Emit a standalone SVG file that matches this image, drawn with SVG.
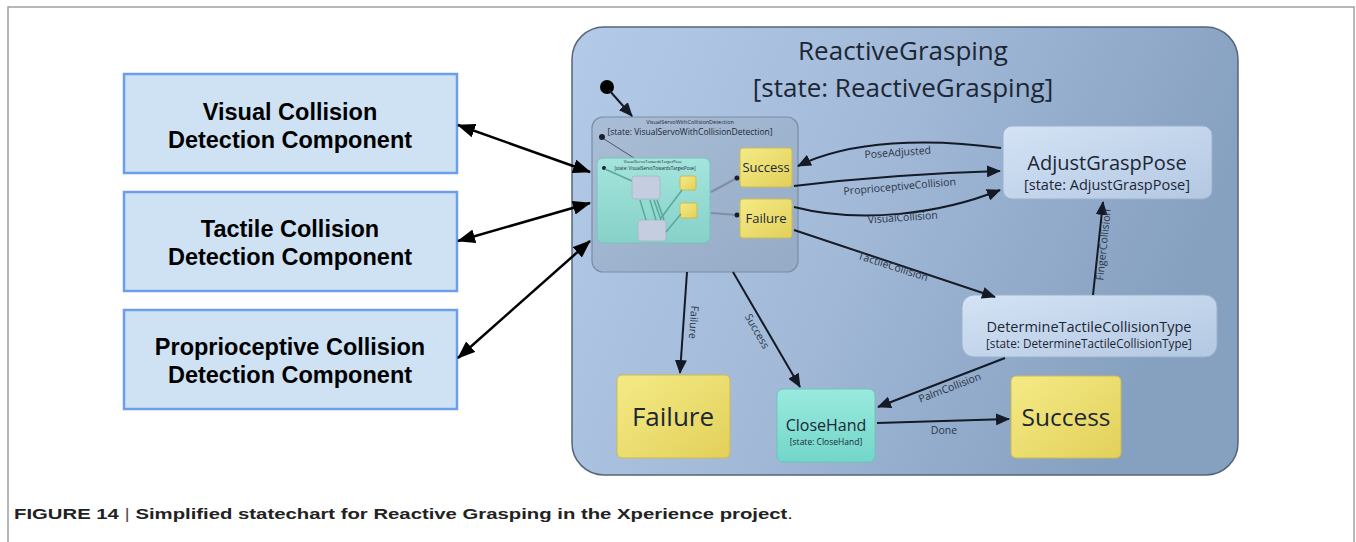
<svg xmlns="http://www.w3.org/2000/svg" width="1356" height="542" viewBox="0 0 1356 542">
<defs>
<linearGradient id="gMain" x1="0" y1="0" x2="1" y2="0.3">
<stop offset="0" stop-color="#b3cae9"/><stop offset="0.5" stop-color="#a2b9d8"/><stop offset="1" stop-color="#86a0bf"/>
</linearGradient>
<linearGradient id="gVS" x1="0" y1="0" x2="1" y2="1">
<stop offset="0" stop-color="#a9bdd6"/><stop offset="1" stop-color="#95abc6"/>
</linearGradient>
<linearGradient id="gTeal" x1="0" y1="0" x2="0" y2="1">
<stop offset="0" stop-color="#a4e5dd"/><stop offset="1" stop-color="#86d1c8"/>
</linearGradient>
<linearGradient id="gCH" x1="0" y1="0" x2="0" y2="1">
<stop offset="0" stop-color="#9aeade"/><stop offset="1" stop-color="#72d6c9"/>
</linearGradient>
<linearGradient id="gY" x1="0" y1="0" x2="1" y2="1">
<stop offset="0" stop-color="#f4ea86"/><stop offset="1" stop-color="#e2d05a"/>
</linearGradient>
<linearGradient id="gAG" x1="0" y1="0" x2="1" y2="1">
<stop offset="0" stop-color="#d4e3f5"/><stop offset="1" stop-color="#b3c8e2"/>
</linearGradient>
<marker id="ah" markerUnits="userSpaceOnUse" markerWidth="14" markerHeight="12" viewBox="0 0 14 12" refX="13" refY="6" orient="auto">
<path d="M0,0 L14,6 L0,12 z" fill="#141a26"/>
</marker>
<marker id="ahs" markerUnits="userSpaceOnUse" markerWidth="6" markerHeight="6" viewBox="0 0 6 6" refX="3" refY="3" orient="auto">
<circle cx="3" cy="3" r="2.5" fill="#1a2030"/>
</marker>
<marker id="ab" markerUnits="userSpaceOnUse" markerWidth="18" markerHeight="14" viewBox="0 0 18 14" refX="17" refY="7" orient="auto-start-reverse">
<path d="M0,0 L18,7 L0,14 z" fill="#000"/>
</marker>
<style>
.comp{fill:#cfe2f3;stroke:#6d9eeb;stroke-width:2.5}
.ct{font-family:"Liberation Sans",Arial,sans-serif;font-weight:bold;font-size:23.5px;fill:#000;text-anchor:middle}
.st{font-family:"Open Sans","Noto Sans",sans-serif;fill:#1c2736;text-anchor:middle}
.lbl{font-family:"Open Sans","Noto Sans",sans-serif;font-size:10.5px;fill:#2a3546;text-anchor:middle}
.tr{fill:none;stroke:#141a26;stroke-width:2}
.ext{fill:none;stroke:#000;stroke-width:2.5}
.yel{fill:url(#gY);stroke:#cbbb52;stroke-width:1}
.inl{fill:none;stroke:#5aa89a;stroke-width:1.5}
</style>
</defs>

<rect x="8" y="7" width="1346" height="560" fill="#fff" stroke="#a0a0a0" stroke-width="1.5"/>

<g id="main">
<rect x="572" y="27" width="666" height="448" rx="32" fill="url(#gMain)" stroke="#56657a" stroke-width="1.5"/>
<text class="st" x="903" y="60" font-size="26">ReactiveGrasping</text>
<text class="st" x="903" y="97" font-size="26">[state: ReactiveGrasping]</text>
</g>

<g id="initial">
<circle cx="607" cy="87" r="7" fill="#000"/>
</g>

<g id="visualServo">
<rect x="592" y="117" width="206" height="155" rx="11" fill="url(#gVS)" stroke="#7a8da6" stroke-width="1.2"/>
<text class="st" x="690" y="124" font-size="5.5">VisualServoWithCollisionDetection</text>
<text class="st" x="690" y="135" font-size="8.5">[state: VisualServoWithCollisionDetection]</text>
<circle cx="602" cy="137" r="3" fill="#1a2030"/>
<line x1="604" y1="139" x2="634" y2="158" stroke="#4a5568" stroke-width="1"/>
<g id="innerTeal">
<rect x="597" y="158" width="113" height="85" rx="6" fill="url(#gTeal)" stroke="#7cc2b9" stroke-width="1"/>
<text class="st" x="653" y="163" font-size="4">VisualServoTowardsTargetPose</text>
<text class="st" x="655" y="170" font-size="4.5">[state: VisualServoTowardsTargetPose]</text>
<circle cx="604" cy="168" r="2" fill="#1a2030"/>
<line x1="605" y1="169" x2="632" y2="181" class="inl"/>
<rect x="632" y="176" width="28" height="23" rx="3" fill="#c5cde0" stroke="#aab3c8" stroke-width="0.8"/>
<rect x="638" y="220" width="28" height="21" rx="3" fill="#c5cde0" stroke="#aab3c8" stroke-width="0.8"/>
<rect x="680" y="176" width="16" height="14" rx="2" class="yel"/>
<rect x="680" y="203" width="17" height="15" rx="2" class="yel"/>
<line x1="640" y1="200" x2="646" y2="220" class="inl"/>
<line x1="650" y1="200" x2="656" y2="220" class="inl"/>
<line x1="654" y1="200" x2="661" y2="220" class="inl"/>
<line x1="657" y1="200" x2="664" y2="220" class="inl"/>
<line x1="661" y1="218" x2="682" y2="190" class="inl"/>
<line x1="666" y1="232" x2="681" y2="214" class="inl"/>
</g>
<line x1="711" y1="192" x2="737" y2="178" stroke="#7f8ea3" stroke-width="2" marker-end="url(#ahs)"/>
<line x1="711" y1="213" x2="737" y2="215" stroke="#7f8ea3" stroke-width="2" marker-end="url(#ahs)"/>
</g>

<g id="innerSuccess">
<rect x="740" y="148" width="52" height="39" rx="3" class="yel"/>
<text class="st" x="766" y="172" font-size="13">Success</text>
</g>
<g id="innerFailure">
<rect x="740" y="199" width="52" height="39" rx="3" class="yel"/>
<text class="st" x="766" y="223" font-size="13">Failure</text>
</g>

<g id="adjustGraspPose">
<rect x="1003" y="126" width="209" height="73" rx="9" fill="url(#gAG)" stroke="#9cb1cb" stroke-width="1"/>
<text class="st" x="1107" y="170" font-size="20">AdjustGraspPose</text>
<text class="st" x="1107" y="190" font-size="14.5">[state: AdjustGraspPose]</text>
</g>

<g id="determineTactile">
<rect x="962" y="295" width="255" height="62" rx="12" fill="url(#gAG)" stroke="#9cb1cb" stroke-width="1"/>
<text class="st" x="1089" y="332" font-size="14.5">DetermineTactileCollisionType</text>
<text class="st" x="1089" y="348" font-size="11.7">[state: DetermineTactileCollisionType]</text>
</g>

<g id="failure">
<rect x="617" y="375" width="113" height="83" rx="5" class="yel"/>
<text class="st" x="673" y="426" font-size="26">Failure</text>
</g>

<g id="closeHand">
<rect x="777" y="389" width="98" height="73" rx="6" fill="url(#gCH)" stroke="#6cc4b8" stroke-width="1"/>
<text class="st" x="826" y="431" font-size="16">CloseHand</text>
<text class="st" x="826" y="445" font-size="8.5">[state: CloseHand]</text>
</g>

<g id="success">
<rect x="1011" y="376" width="110" height="82" rx="5" class="yel"/>
<text class="st" x="1066" y="426" font-size="24.5">Success</text>
</g>

<g id="visualComp">
<rect x="124" y="74" width="333" height="99" class="comp"/>
<text class="ct" x="290" y="120">Visual Collision</text>
<text class="ct" x="290" y="148">Detection Component</text>
</g>
<g id="tactileComp">
<rect x="124" y="192" width="333" height="99" class="comp"/>
<text class="ct" x="290" y="237">Tactile Collision</text>
<text class="ct" x="290" y="265">Detection Component</text>
</g>
<g id="proprioComp">
<rect x="124" y="310" width="333" height="99" class="comp"/>
<text class="ct" x="290" y="355">Proprioceptive Collision</text>
<text class="ct" x="290" y="383">Detection Component</text>
</g>

<g id="connectors">
<line class="tr" x1="609" y1="90" x2="632" y2="116" marker-end="url(#ah)"/>
<path class="tr" d="M1001,148 C930,138 850,140 798,166" marker-end="url(#ah)"/>
<text class="lbl" x="898" y="156" transform="rotate(-4 898 156)">PoseAdjusted</text>
<path class="tr" d="M794,186 C860,178 930,173 1000,171" marker-end="url(#ah)"/>
<text class="lbl" x="900" y="190" transform="rotate(-5 900 190)">ProprioceptiveCollision</text>
<path class="tr" d="M794,207 C860,224 940,214 1000,190" marker-end="url(#ah)"/>
<text class="lbl" x="903" y="221" transform="rotate(-4 903 221)">VisualCollision</text>
<line class="tr" x1="794" y1="230" x2="995" y2="297" marker-end="url(#ah)"/>
<text class="lbl" x="892" y="270" transform="rotate(18 892 270)">TactileCollision</text>
<line class="tr" x1="1093" y1="295" x2="1103" y2="202" marker-end="url(#ah)"/>
<text class="lbl" x="1107" y="245" transform="rotate(-84 1107 245)">FingerCollision</text>
<line class="tr" x1="1005" y1="358" x2="878" y2="407" marker-end="url(#ah)"/>
<text class="lbl" x="951" y="391" transform="rotate(-21 951 391)">PalmCollision</text>
<line class="tr" x1="877" y1="423" x2="1009" y2="419" marker-end="url(#ah)"/>
<text class="lbl" x="944" y="434">Done</text>
<line class="tr" x1="687" y1="272" x2="680" y2="373" marker-end="url(#ah)"/>
<text class="lbl" x="690" y="322" transform="rotate(94 690 322)">Failure</text>
<line class="tr" x1="733" y1="272" x2="800" y2="387" marker-end="url(#ah)"/>
<text class="lbl" x="754" y="333" transform="rotate(60 754 333)">Success</text>
<line class="ext" x1="458" y1="125" x2="590" y2="172" marker-start="url(#ab)" marker-end="url(#ab)"/>
<line class="ext" x1="458" y1="241" x2="590" y2="203" marker-start="url(#ab)" marker-end="url(#ab)"/>
<line class="ext" x1="458" y1="358" x2="590" y2="241" marker-start="url(#ab)" marker-end="url(#ab)"/>
</g>

<text x="14" y="519" font-family="Liberation Sans,Arial,sans-serif" font-size="15.5" font-weight="bold" fill="#222" textLength="779" lengthAdjust="spacingAndGlyphs">FIGURE 14 <tspan font-weight="normal" fill="#555">|</tspan> Simplified statechart for Reactive Grasping in the Xperience project<tspan font-weight="normal">.</tspan></text>
</svg>
